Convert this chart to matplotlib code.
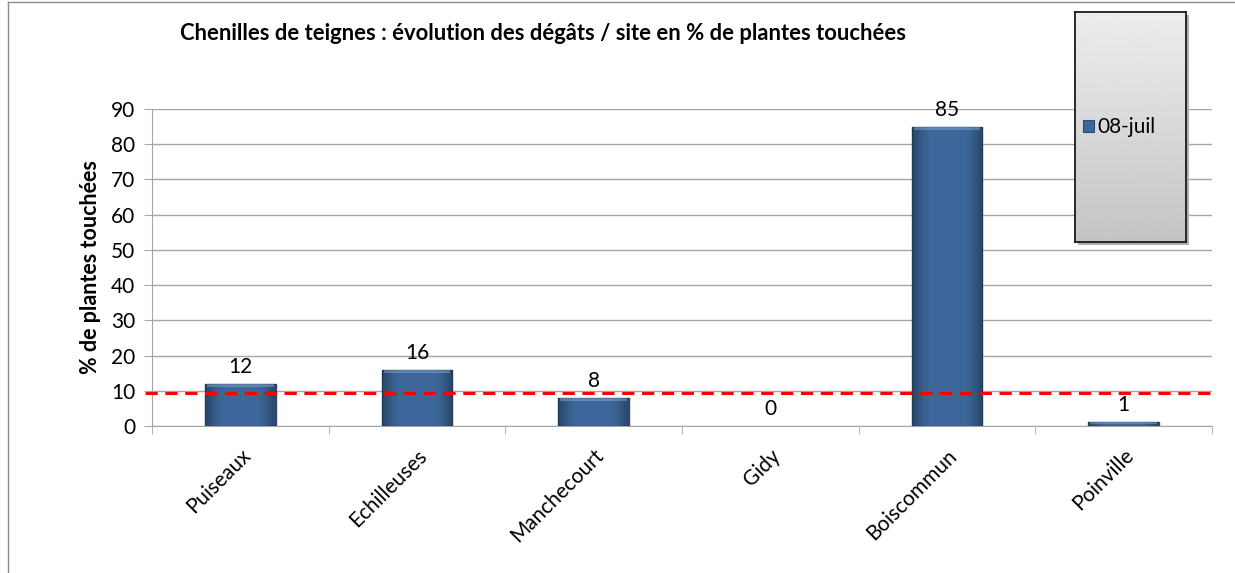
import matplotlib.pyplot as plt
import numpy as np
from matplotlib.lines import Line2D
from matplotlib.patches import Rectangle

sites = ["Puiseaux", "Echilleuses", "Manchecourt", "Gidy", "Boiscommun", "Poinville"]
damage = [12, 16, 8, 0, 85, 1]
series_name = "08-juil"
threshold = 9.5
y_ticks = [0, 10, 20, 30, 40, 50, 60, 70, 80, 90]

W, H = 1235, 573
BAR = "#3d679a"
EDGE = "#2b4b72"
GRID = "#a6a6a6"
FONT = "Lato"
FS = 15


def main():
    fig = plt.figure(figsize=(W / 100, H / 100), dpi=100)
    fig.patch.set_facecolor("white")

    # Outer chart frame (only top and left edges are visible)
    fig.add_artist(Line2D([8 / W, 8 / W], [0, 1 - 2 / H], transform=fig.transFigure,
                          color="#8c8c8c", lw=1))
    fig.add_artist(Line2D([8 / W, 1], [1 - 2 / H, 1 - 2 / H], transform=fig.transFigure,
                          color="#8c8c8c", lw=1))

    ax = fig.add_axes([152 / W, 1 - 426 / H, 1060 / W, 317 / H])
    x = np.arange(len(sites))
    bars = ax.bar(x, damage, width=0.4, color=BAR, edgecolor=EDGE, linewidth=1,
                  label=series_name, zorder=3)

    # Bevel-like shading on each bar: darker sides, light top rim
    side = np.array([0.45, 0.15, 0, 0, 0, 0, 0, 0, 0.15, 0.45])
    rgba = np.zeros((1, len(side), 4))
    rgba[0, :, 3] = side * 0.6
    for b in bars:
        if b.get_height() <= 0:
            b.set_edgecolor("none")
            continue
        x0, w, h = b.get_x(), b.get_width(), b.get_height()
        im = ax.imshow(rgba, aspect="auto", extent=[x0, x0 + w, 0, h], zorder=3.5,
                       interpolation="bilinear")
        im.set_clip_path(b)
        top = min(1.0, h * 0.3)
        ax.fill_between([x0 + w * 0.03, x0 + w * 0.97], h - top, h, color="#8fb0d8",
                        alpha=0.45, lw=0, zorder=3.6)
    ax.set_aspect("auto")

    # Bar value labels
    for xi, v in zip(x, damage):
        ax.text(xi, v + 2.0, str(v), ha="center", va="bottom", fontsize=FS,
                family=FONT, color="black")

    ax.axhline(threshold, xmin=-0.007, xmax=1.005, color="#ff0000", lw=2.2,
               ls=(0, (4, 2.5)), zorder=4, clip_on=False)

    ax.set_xlim(-0.5, len(sites) - 0.5)
    ax.set_ylim(0, 90)
    ax.set_yticks(y_ticks)
    ax.set_yticklabels([str(t) for t in y_ticks], fontsize=FS, family=FONT)
    ax.yaxis.grid(True, color=GRID, lw=1, zorder=0)
    ax.set_axisbelow(True)

    ax.set_xticks(x)
    ax.set_xticklabels(sites, rotation=45, ha="right", va="top", fontsize=FS,
                       family=FONT, rotation_mode="anchor")
    ax.set_xticks(np.arange(-0.5, len(sites)), minor=True)
    ax.tick_params(axis="x", which="major", length=0, pad=14)
    ax.tick_params(axis="x", which="minor", length=6, color=GRID, direction="out")
    ax.tick_params(axis="y", length=6, color=GRID, pad=6)

    for s in ["top", "right"]:
        ax.spines[s].set_visible(False)
    ax.spines["left"].set_color(GRID)
    ax.spines["bottom"].set_color(GRID)

    ax.set_ylabel("% de plantes touchées", fontsize=15.5, fontweight="bold",
                  family=FONT, labelpad=7)

    fig.text(180 / W, 1 - 33 / H,
             "Chenilles de teignes : évolution des dégâts / site en % de plantes touchées",
             ha="left", va="center", fontsize=15.8, fontweight="bold", family=FONT)

    # Legend box with grey gradient
    shadow = Rectangle(((1075 + 3) / W, 1 - (242 + 3) / H), 111 / W, 230 / H,
                       transform=fig.transFigure, facecolor="#b0b0b0", edgecolor="none",
                       zorder=5)
    fig.add_artist(shadow)
    lax = fig.add_axes([1075 / W, 1 - 242 / H, 111 / W, 230 / H], zorder=6)
    grad = np.linspace(0.93, 0.77, 256).reshape(-1, 1)
    lax.imshow(grad, aspect="auto", cmap="gray", vmin=0, vmax=1, extent=[0, 1, 0, 1])
    lax.set_xticks([])
    lax.set_yticks([])
    for sp in lax.spines.values():
        sp.set_color("#1a1a1a")
        sp.set_linewidth(1.3)
    lax.add_patch(Rectangle((0.07, 0.48), 0.1, 0.05, facecolor=BAR, edgecolor=EDGE,
                            lw=0.8, transform=lax.transAxes))
    lax.text(0.2, 0.5, series_name, ha="left", va="center", fontsize=FS,
             family=FONT, transform=lax.transAxes)

    fig.savefig("out.png", dpi=100)


if __name__ == "__main__":
    main()
